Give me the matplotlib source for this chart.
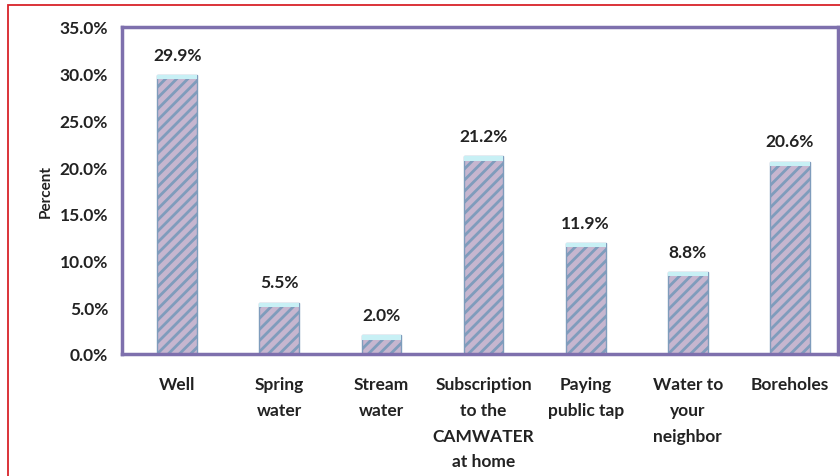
import matplotlib
matplotlib.use("Agg")
import matplotlib.pyplot as plt
from matplotlib.patches import Rectangle
import numpy as np

categories = ["Well", "Spring\nwater", "Stream\nwater", "Subscription\nto the\nCAMWATER\nat home",
              "Paying\npublic tap", "Water to\nyour\nneighbor", "Boreholes"]
values = [29.9, 5.5, 2.0, 21.2, 11.9, 8.8, 20.6]
yticks = [0, 5, 10, 15, 20, 25, 30, 35]

plt.rcParams['font.family'] = ['Lato', 'DejaVu Sans']
plt.rcParams['hatch.linewidth'] = 2.0
plt.rcParams['hatch.color'] = '#5a9fd6'

fig = plt.figure(figsize=(8.4, 4.77), dpi=100)
ax = fig.add_axes([122/840, 1-355/477, (838-122)/840, (355-28)/477])

x = np.arange(len(categories))
ax.bar(x, values, width=0.39, color='#c6b6cf', edgecolor='#7f9cbc', linewidth=1.0,
       hatch='///', zorder=2)
cap = 0.5
ax.bar(x, [cap]*len(values), bottom=[v-cap for v in values], width=0.39,
       color='#c8f0f5', edgecolor='none', zorder=3)

for xi, v in zip(x, values):
    ax.text(xi, v + 1.3, f"{v:.1f}%", ha='center', va='bottom', fontsize=12.5,
            fontweight='bold', color='#222222')

ax.set_xlim(-0.54, 6.47)
ax.set_ylim(0, 35)
ax.set_yticks(yticks)
ax.set_yticklabels([f"{t:.1f}%" for t in yticks], fontsize=12.5, fontweight='bold', color='#222222')
ax.set_xticks(x)
ax.set_xticklabels(categories, fontsize=12.5, fontweight='bold', color='#222222', linespacing=1.75, va='top')
ax.tick_params(axis='both', length=0)
ax.tick_params(axis='y', pad=10)
ax.tick_params(axis='x', pad=16)
ax.set_ylabel("Percent", fontsize=11, fontweight='bold', color='#222222', labelpad=5)

for s in ax.spines.values():
    s.set_color('#7e70ad')
    s.set_linewidth(2.5)

fig.add_artist(Rectangle((8/840, -0.05), 1.2, 1.05 - 6/477, transform=fig.transFigure,
                         fill=False, edgecolor='#d8232a', linewidth=1.3))

fig.savefig("out.png", dpi=100)
